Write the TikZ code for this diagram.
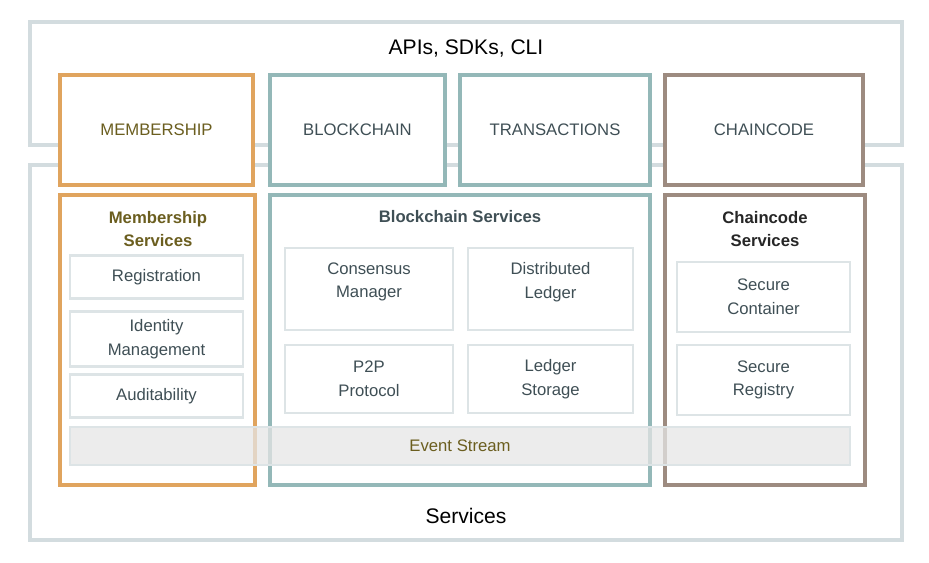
\documentclass[tikz,border=0pt]{standalone}
\usepackage{fontspec}
\setmainfont{Liberation Sans}
\usetikzlibrary{positioning}
\definecolor{frame}{HTML}{D3DCDF}
\definecolor{memb}{HTML}{E0A45E}
\definecolor{chain}{HTML}{94B8B8}
\definecolor{ccode}{HTML}{9D8B80}
\definecolor{olive}{HTML}{6B5E1F}
\definecolor{slate}{HTML}{3F4F55}
\definecolor{inner}{HTML}{DDE4E6}
\tikzset{
  box/.style={draw, rectangle, inner sep=0pt, align=center, font=\fontsize{9.5}{13.5}\selectfont},
  outer/.style={box, draw=frame, line width=2.4pt},
  top/.style={box, line width=1.8pt, fill=white},
  svc/.style={box, line width=2.6pt},
  item/.style={box, draw=inner, line width=1.4pt, fill=white, text=slate},
  head/.style={font=\bfseries\fontsize{9.5}{13.5}\selectfont, align=center}
}
\begin{document}
\begin{tikzpicture}[x=0.02cm,y=-0.02cm]
      \useasboundingbox (0,0) rectangle (929,562);
      \node[outer, minimum width=872*0.02cm, minimum height=123*0.02cm] (apis) at (466,83.5) {};
      \node[outer, minimum width=872*0.02cm, minimum height=375*0.02cm] (services) at (466,352.5) {};
      \node[font=\fontsize{12}{14}\selectfont] (apistitle) at (466,48) {APIs, SDKs, CLI};
      \node[font=\fontsize{12}{14}\selectfont] (svctitle) at (466,516) {Services};

      \node[top, draw=memb, text=olive, minimum width=193*0.02cm, minimum height=110*0.02cm] (membership) at (156.5,130) {MEMBERSHIP};
      \node[top, draw=chain, text=slate, minimum width=175*0.02cm, minimum height=110*0.02cm] (blockchain) at (357.5,130) {BLOCKCHAIN};
      \node[top, draw=chain, text=slate, minimum width=190*0.02cm, minimum height=110*0.02cm] (transactions) at (555,130) {TRANSACTIONS};
      \node[top, draw=ccode, text=slate, minimum width=198*0.02cm, minimum height=110*0.02cm] (chaincode) at (764,130) {CHAINCODE};

      \node[svc, draw=memb, minimum width=195*0.02cm, minimum height=290*0.02cm] (membsvc) at (157.5,340) {};
      \node[svc, draw=chain, minimum width=380*0.02cm, minimum height=290*0.02cm] (chainsvc) at (460,340) {};
      \node[svc, draw=ccode, minimum width=200*0.02cm, minimum height=290*0.02cm] (ccodesvc) at (765,340) {};
      \node[head, text=olive] (membhead) at (158,229) {Membership\\Services};
      \node[head, text=slate] (chainhead) at (460,217) {Blockchain Services};
      \node[head, text=black!85] (ccodehead) at (765,229) {Chaincode\\Services};

      \node[item, minimum width=173*0.02cm, minimum height=43*0.02cm] (registration) at (156.5,277) {Registration};
      \node[item, minimum width=173*0.02cm, minimum height=55*0.02cm] (identity) at (156.5,339) {Identity\\Management};
      \node[item, minimum width=173*0.02cm, minimum height=43*0.02cm] (audit) at (156.5,396) {Auditability};

      \node[item, minimum width=168*0.02cm, minimum height=82*0.02cm] (consensus) at (369,289) {};
      \node[align=center, text=slate, font=\fontsize{9.5}{13.5}\selectfont] (consensustext) at (369,282) {Consensus\\Manager};
      \node[item, minimum width=165*0.02cm, minimum height=82*0.02cm] (distributed) at (550.5,289) {};
      \node[align=center, text=slate, font=\fontsize{9.5}{13.5}\selectfont] (distributedtext) at (550.5,282) {Distributed\\Ledger};
      \node[item, minimum width=168*0.02cm, minimum height=68*0.02cm] (ptwop) at (369,379) {P2P\\Protocol};
      \node[item, minimum width=165*0.02cm, minimum height=68*0.02cm] (storage) at (550.5,379) {Ledger\\Storage};

      \node[item, minimum width=173*0.02cm, minimum height=70*0.02cm] (container) at (763.5,297) {Secure\\Container};
      \node[item, minimum width=173*0.02cm, minimum height=70*0.02cm] (registry) at (763.5,380) {Secure\\Registry};

      % shared bus across all three groups
      \node[box, draw=inner, line width=1.4pt, fill=black!10, fill opacity=0.75, text opacity=1, text=olive, minimum width=780*0.02cm, minimum height=38*0.02cm] (events) at (460,446) {Event Stream};
\end{tikzpicture}
\end{document}
